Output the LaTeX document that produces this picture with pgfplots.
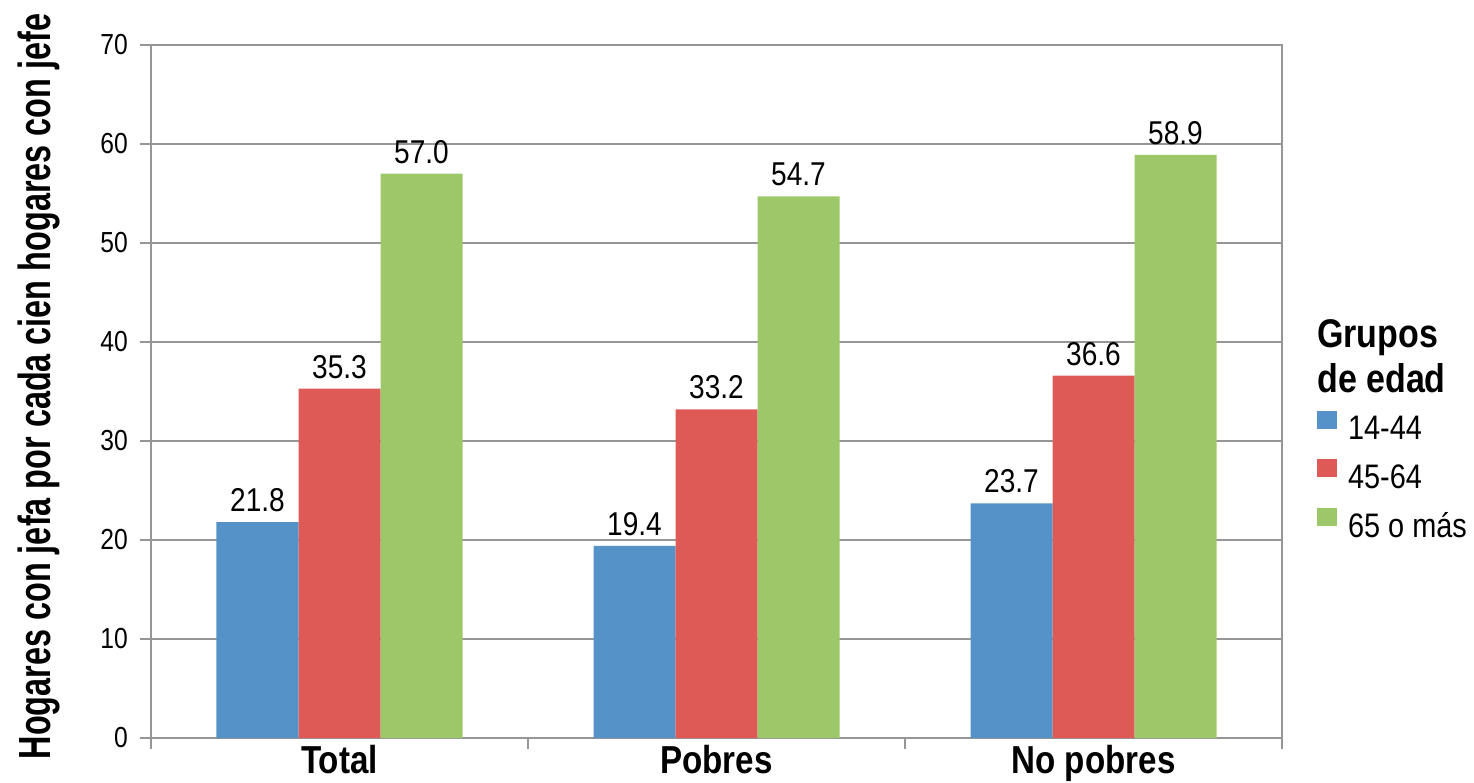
\documentclass[border=0pt]{standalone}
\usepackage{pgfplots}
\pgfplotsset{compat=1.18}
\usepackage{fontspec}
\setmainfont{Liberation Sans}[FakeStretch=0.85]
\newfontfamily\ylabfont{Liberation Sans}[FakeStretch=0.72]
\definecolor{cblue}{RGB}{85,146,200}
\definecolor{cred}{RGB}{222,90,86}
\definecolor{cgreen}{RGB}{157,200,106}
\definecolor{gridgray}{RGB}{150,150,150}
\begin{document}
\begin{tikzpicture}
\begin{axis}[
  scale only axis, width=1131pt, height=693pt,
  at={(0pt,0pt)}, anchor=south west, clip=false,
  ybar=0pt, bar width=82pt,
  xmin=-0.5, xmax=2.5, ymin=0, ymax=70,
  ytick={0,10,...,70},
  xtick={-0.5,0.5,1.5,2.5}, xticklabels={,,,},
  extra x ticks={0,1,2},
  extra x tick labels={Total,Pobres,No pobres},
  extra x tick style={major tick length=0pt},
  tick align=outside, major tick length=11pt,
  tick pos=left,
  ymajorgrids=true,
  grid style={gridgray, line width=2.8pt},
  tick style={gridgray, line width=2.8pt},
  axis line style={gridgray, line width=2.8pt},
  /pgf/number format/assume math mode=true,
  yticklabel style={font=\fontsize{29}{29}\selectfont, inner sep=0pt, xshift=-12pt},
  xticklabel style={font=\bfseries\fontsize{39}{39}\selectfont, inner sep=0pt, anchor=north, yshift=-7pt},
  ylabel={Hogares con jefa por cada cien hogares con jefe},
  ylabel style={font=\ylabfont\bfseries\fontsize{45}{45}\selectfont, at={(axis description cs:-0.0893,0.5072)}, anchor=base, inner sep=0pt},
  nodes near coords={\pgfmathprintnumber[fixed,fixed zerofill,precision=1,assume math mode=true]{\pgfplotspointmeta}},
  nodes near coords style={font=\fontsize{33}{33}\selectfont, inner sep=0pt, anchor=south, yshift=10pt, black},
  legend style={draw=none, fill=none, inner sep=0pt, outer sep=0pt,
    at={(axis description cs:1.031,0.4723)}, anchor=north west,
    font=\fontsize{34}{34}\selectfont, row sep=18pt,
    nodes={inner sep=0pt},
    /tikz/every odd column/.append style={column sep=11pt}},
  legend cell align=left,
  legend image code/.code={\fill[#1] (0pt,0pt) rectangle (20pt,18pt);},
]
\addplot[fill=cblue, draw=none] coordinates {(0,21.8) (1,19.4) (2,23.7)};
\addplot[fill=cred, draw=none] coordinates {(0,35.3) (1,33.2) (2,36.6)};
\addplot[fill=cgreen, draw=none] coordinates {(0,57.0) (1,54.7) (2,58.9)};
\legend{14-44,45-64,65 o más}
\node[anchor=north west, inner sep=0pt, align=left, font=\bfseries\fontsize{40}{45}\selectfont] at (axis description cs:1.031,0.6046) {Grupos\\de edad};
\end{axis}
\pgfresetboundingbox
\path[use as bounding box] (-151pt,-44pt) rectangle (1323pt,738pt);
\end{tikzpicture}
\end{document}
